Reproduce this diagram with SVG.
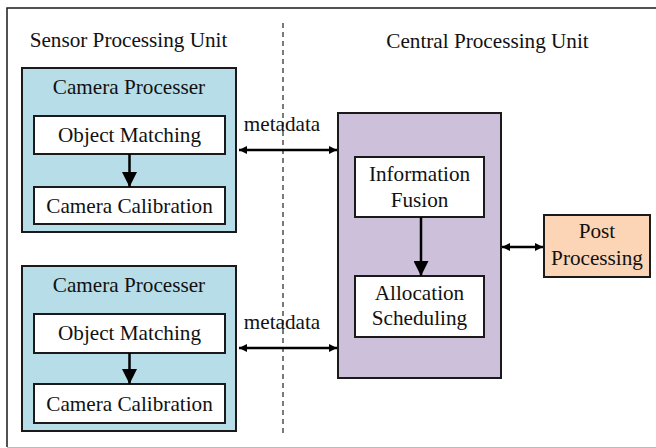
<svg xmlns="http://www.w3.org/2000/svg" width="656" height="448" viewBox="0 0 656 448" font-family="'Liberation Serif', 'Times New Roman', Times, serif">
<defs>
<marker id="ah" viewBox="0 0 10 10" refX="10" refY="5" markerWidth="10" markerHeight="8" markerUnits="userSpaceOnUse" orient="auto-start-reverse">
<path d="M0,0 L10,5 L0,10 z" fill="#000"/>
</marker>
<marker id="big" viewBox="0 0 10 10" refX="10" refY="5" markerWidth="17" markerHeight="15" markerUnits="userSpaceOnUse" orient="auto">
<path d="M0,0 L10,5 L0,10 z" fill="#000"/>
</marker>
</defs>
<style>
text{font-family:'Liberation Serif','Times New Roman',Times,serif;font-size:21.2px;fill:#111;text-anchor:middle}
.cam{fill:#B7DDE8;stroke:#1a1a1a;stroke-width:2}
.inner{fill:#fff;stroke:#1a1a1a;stroke-width:2}
.cpu{fill:#CCC0DA;stroke:#1a1a1a;stroke-width:2}
.post{fill:#FBD5B5;stroke:#1a1a1a;stroke-width:2}
.link{stroke:#000;stroke-width:2.5;fill:none}
</style>
<rect width="656" height="448" fill="#fff"/>
<g id="frame">
<path d="M660,8 H7 V447" fill="none" stroke="#1a1a1a" stroke-width="1.5"/>
<line x1="7" y1="447.5" x2="656" y2="447.5" stroke="#bbb" stroke-width="1"/>
<line x1="283" y1="23" x2="283" y2="437" stroke="#222" stroke-width="1.2" stroke-dasharray="5,4"/>
<text x="128.5" y="47">Sensor Processing Unit</text>
<text x="487.5" y="48">Central Processing Unit</text>
</g>
<g id="camera1">
<rect class="cam" x="22" y="68" width="214" height="164"/>
<text x="129" y="94">Camera Processer</text>
</g>
<g id="objmatch1">
<rect class="inner" x="34" y="116" width="191" height="38"/>
<text x="129.5" y="142">Object Matching</text>
</g>
<g id="camcal1">
<rect class="inner" x="34" y="187" width="191" height="37"/>
<text x="129.5" y="212.5">Camera Calibration</text>
</g>
<g id="camera2">
<rect class="cam" x="22" y="266" width="214" height="165"/>
<text x="129" y="292">Camera Processer</text>
</g>
<g id="objmatch2">
<rect class="inner" x="34" y="314" width="191" height="39"/>
<text x="129.5" y="340">Object Matching</text>
</g>
<g id="camcal2">
<rect class="inner" x="34" y="384" width="191" height="39"/>
<text x="129.5" y="410.5">Camera Calibration</text>
</g>
<g id="cpu">
<rect class="cpu" x="338" y="113" width="163" height="265"/>
</g>
<g id="fusion">
<rect class="inner" x="355" y="157" width="129" height="60"/>
<text x="419.5" y="181">Information</text>
<text x="419.5" y="207">Fusion</text>
</g>
<g id="alloc">
<rect class="inner" x="355" y="276" width="129" height="61"/>
<text x="419.5" y="300">Allocation</text>
<text x="419.5" y="325">Scheduling</text>
</g>
<g id="post">
<rect class="post" x="544" y="215" width="106" height="62"/>
<text x="597" y="238">Post</text>
<text x="597" y="265">Processing</text>
</g>
<g id="connectors">
<line class="link" x1="129.5" y1="154" x2="129.5" y2="187" marker-end="url(#big)"/>
<line class="link" x1="129.5" y1="353" x2="129.5" y2="384" marker-end="url(#big)"/>
<line class="link" x1="421" y1="217" x2="421" y2="276" marker-end="url(#big)"/>
<line class="link" x1="239" y1="150" x2="337" y2="150" marker-start="url(#ah)" marker-end="url(#ah)"/>
<text x="282" y="131">metadata</text>
<line class="link" x1="239" y1="348" x2="337" y2="348" marker-start="url(#ah)" marker-end="url(#ah)"/>
<text x="282" y="329">metadata</text>
<line class="link" x1="502" y1="247" x2="543" y2="247" marker-start="url(#ah)" marker-end="url(#ah)"/>
</g>
</svg>
